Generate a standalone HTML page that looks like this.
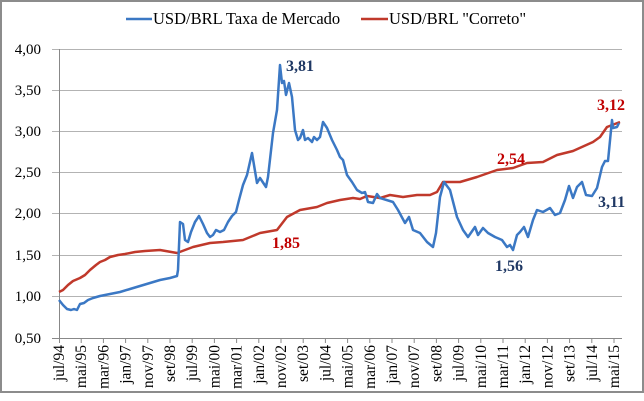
<!DOCTYPE html>
<html><head><meta charset="utf-8"><style>
html,body{margin:0;padding:0;background:#fff}
svg{display:block}
svg text{font-family:"Liberation Serif","Times New Roman",serif}
</style></head><body>
<svg width="644" height="401" viewBox="0 0 644 401" font-family="Liberation Serif, serif">
<rect x="1" y="1" width="642" height="391" fill="#fff" stroke="#8c8c8c" stroke-width="2"/>
<g stroke="#b3b3b3" stroke-width="1">
<line x1="52" x2="622" y1="49.5" y2="49.5"/><line x1="52" x2="622" y1="90.5" y2="90.5"/>
<line x1="52" x2="622" y1="131.5" y2="131.5"/><line x1="52" x2="622" y1="172.5" y2="172.5"/>
<line x1="52" x2="622" y1="213.5" y2="213.5"/><line x1="52" x2="622" y1="255.5" y2="255.5"/>
<line x1="52" x2="622" y1="296.5" y2="296.5"/>
</g>
<line x1="52" x2="622" y1="338.5" y2="338.5" stroke="#888"/>
<line x1="59.5" x2="59.5" y1="49" y2="338" stroke="#888"/>
<g font-size="15" fill="#000" text-anchor="end">
<text x="41" y="54">4,00</text><text x="41" y="95">3,50</text><text x="41" y="136">3,00</text>
<text x="41" y="177">2,50</text><text x="41" y="218">2,00</text><text x="41" y="260">1,50</text>
<text x="41" y="301">1,00</text><text x="41" y="343">0,50</text>
</g>
<g stroke="#888">
<line x1="59.5" x2="59.5" y1="338" y2="343"/><line x1="81.2" x2="81.2" y1="338" y2="343"/><line x1="103.4" x2="103.4" y1="338" y2="343"/><line x1="125.6" x2="125.6" y1="338" y2="343"/><line x1="147.8" x2="147.8" y1="338" y2="343"/><line x1="170" x2="170" y1="338" y2="343"/><line x1="192.2" x2="192.2" y1="338" y2="343"/><line x1="214.4" x2="214.4" y1="338" y2="343"/><line x1="236.6" x2="236.6" y1="338" y2="343"/><line x1="258.8" x2="258.8" y1="338" y2="343"/><line x1="281" x2="281" y1="338" y2="343"/><line x1="303.2" x2="303.2" y1="338" y2="343"/><line x1="325.4" x2="325.4" y1="338" y2="343"/><line x1="347.6" x2="347.6" y1="338" y2="343"/><line x1="369.8" x2="369.8" y1="338" y2="343"/><line x1="392" x2="392" y1="338" y2="343"/><line x1="414.2" x2="414.2" y1="338" y2="343"/><line x1="436.4" x2="436.4" y1="338" y2="343"/><line x1="458.6" x2="458.6" y1="338" y2="343"/><line x1="480.8" x2="480.8" y1="338" y2="343"/><line x1="503" x2="503" y1="338" y2="343"/><line x1="525.2" x2="525.2" y1="338" y2="343"/><line x1="547.4" x2="547.4" y1="338" y2="343"/><line x1="569.6" x2="569.6" y1="338" y2="343"/><line x1="591.8" x2="591.8" y1="338" y2="343"/><line x1="614" x2="614" y1="338" y2="343"/>
</g>
<g font-size="15.5" fill="#000" text-anchor="end">
<text transform="translate(64,345) rotate(-90)">jul/94</text>
<text transform="translate(86.2,345) rotate(-90)">mai/95</text>
<text transform="translate(108.4,345) rotate(-90)">mar/96</text>
<text transform="translate(130.6,345) rotate(-90)">jan/97</text>
<text transform="translate(152.8,345) rotate(-90)">nov/97</text>
<text transform="translate(175,345) rotate(-90)">set/98</text>
<text transform="translate(197.2,345) rotate(-90)">jul/99</text>
<text transform="translate(219.4,345) rotate(-90)">mai/00</text>
<text transform="translate(241.6,345) rotate(-90)">mar/01</text>
<text transform="translate(263.8,345) rotate(-90)">jan/02</text>
<text transform="translate(286,345) rotate(-90)">nov/02</text>
<text transform="translate(308.2,345) rotate(-90)">set/03</text>
<text transform="translate(330.4,345) rotate(-90)">jul/04</text>
<text transform="translate(352.6,345) rotate(-90)">mai/05</text>
<text transform="translate(374.8,345) rotate(-90)">mar/06</text>
<text transform="translate(397,345) rotate(-90)">jan/07</text>
<text transform="translate(419.2,345) rotate(-90)">nov/07</text>
<text transform="translate(441.4,345) rotate(-90)">set/08</text>
<text transform="translate(463.6,345) rotate(-90)">jul/09</text>
<text transform="translate(485.8,345) rotate(-90)">mai/10</text>
<text transform="translate(508,345) rotate(-90)">mar/11</text>
<text transform="translate(530.2,345) rotate(-90)">jan/12</text>
<text transform="translate(552.4,345) rotate(-90)">nov/12</text>
<text transform="translate(574.6,345) rotate(-90)">set/13</text>
<text transform="translate(596.8,345) rotate(-90)">jul/14</text>
<text transform="translate(619,345) rotate(-90)">mai/15</text>
</g>
<polyline fill="none" stroke="#c0392b" stroke-width="2.5" stroke-linejoin="round" points="59,292 63,290 68,285 73,281 80,278 85,275 90,270 96,265 100,262 105,260 110,257 118,255 125,254 135,252 145,251 160,250 177,253 193,247 210,243 223,242 243,240 260,233 277,230 287,217 300,210 317,207 327,203 340,200 353,198 360,199 367,196 380,198 390,195 403,197 417,195 430,195 437,192 443,182 460,182 477,177 497,170 513,168 527,163 543,162 557,155 573,151 593,142 600,137 607,127 620,122"/>
<polyline fill="none" stroke="#3b78c4" stroke-width="2.5" stroke-linejoin="round" points="59,300 63,305 67,309 71,310 74,309 77,310 80,304 84,303 88,300 93,298 100,296 110,294 120,292 130,289 140,286 150,283 160,280 170,278 177,276 178,270 180,222 183,224 185,240 188,242 191,232 195,222 199,216 203,224 207,233 210,237 213,235 216,230 220,232 224,230 228,222 232,216 236,212 239,200 243,185 247,175 252,153 257,183 260,178 266,187 268,177 273,133 277,110 280,65 282,83 284,81 286,95 289,83 292,97 295,130 298,140 300,138 303,130 305,140 308,138 312,142 314,137 317,140 320,137 323,122 327,128 332,140 337,150 340,157 343,160 347,175 352,182 357,190 362,193 365,192 368,202 373,203 377,194 380,198 393,202 398,210 405,223 409,217 413,230 420,233 427,242 433,247 436,233 440,197 444,182 450,190 457,217 463,230 468,237 475,227 478,235 483,228 488,233 495,237 502,240 507,247 510,245 513,250 517,235 520,232 524,227 528,237 533,220 537,210 543,212 550,208 555,215 560,213 565,200 569,186 573,198 577,187 582,182 586,195 592,196 597,188 602,167 605,161 608,161 612,120 613,128 617,127 619,123"/>
<g font-size="16" font-weight="bold">
<text x="286" y="71" fill="#1f3864">3,81</text>
<text x="272" y="248" fill="#c00000">1,85</text>
<text x="497" y="164" fill="#c00000">2,54</text>
<text x="495" y="271" fill="#1f3864">1,56</text>
<text x="597" y="110" fill="#c00000">3,12</text>
<text x="598" y="207" fill="#1f3864">3,11</text>
</g>
<line x1="126" x2="152" y1="19" y2="19" stroke="#3b78c4" stroke-width="2.5"/>
<text x="153" y="24" font-size="16.5">USD/BRL Taxa de Mercado</text>
<line x1="361" x2="388" y1="19" y2="19" stroke="#c0392b" stroke-width="2.5"/>
<text x="389" y="24" font-size="16.5">USD/BRL "Correto"</text>
</svg>
</body></html>
